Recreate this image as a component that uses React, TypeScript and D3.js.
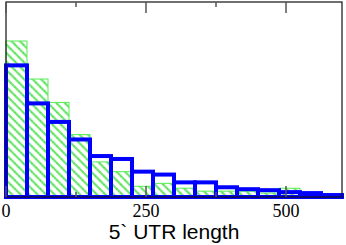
import React, { useEffect, useRef } from 'react';
import * as d3 from 'd3';

// histogram bins of 5` UTR length (bin width 37.5)
const binStarts = [0, 37.5, 75, 112.5, 150, 187.5, 225, 262.5, 300, 337.5, 375, 412.5, 450, 487.5, 525, 562.5];
const binWidth = 37.5;
// relative frequency (%) per bin
const greenValues = [16.0, 12.1, 9.7, 6.4, 3.6, 2.6, 1.1, 1.4, 0.9, 0.6, 0.6, 0.6, 0.4, 0.9, 0.4, 0.1];
const blueValues = [13.5, 9.6, 7.7, 5.9, 4.2, 3.9, 2.6, 2.3, 1.5, 1.5, 1.0, 0.8, 0.7, 0.5, 0.4, 0.2];
const majorTicks = [0, 250, 500];
const minorTicks = [125, 375];
const xTitle = '5` UTR length';

export default function App() {
  const svgRef = useRef<SVGSVGElement>(null);

  useEffect(() => {
    const width = 346;
    const height = 245;
    const m = { left: 6, right: 4, top: 2, bottom: 48 };

    const svg = d3.select(svgRef.current)
      .attr('width', width)
      .attr('height', height)
      .style('position', 'absolute')
      .style('left', 0)
      .style('top', 0)
      .style('background', '#fff');
    svg.selectAll('*').remove();

    const x = d3.scaleLinear().domain([0, 600]).range([m.left, width - m.right]);
    const y = d3.scaleLinear().domain([0, 20]).range([height - m.bottom, m.top]);

    // hatch pattern for the green bars (lines running top-left to bottom-right)
    const defs = svg.append('defs');
    const pat = defs.append('pattern')
      .attr('id', 'hatch')
      .attr('patternUnits', 'userSpaceOnUse')
      .attr('width', 6)
      .attr('height', 6)
      .attr('patternTransform', 'rotate(45)');
    pat.append('rect').attr('width', 6).attr('height', 6).attr('fill', '#fff');
    pat.append('line')
      .attr('x1', 0).attr('y1', 3).attr('x2', 6).attr('y2', 3)
      .attr('stroke', '#9ef09e').attr('stroke-width', 2.4);
    pat.append('line')
      .attr('x1', 0).attr('y1', 3).attr('x2', 6).attr('y2', 3)
      .attr('stroke', '#11cc11').attr('stroke-width', 0.9)
      .attr('stroke-dasharray', '1.5 0.8');

    svg.append('g')
      .selectAll('rect')
      .data(greenValues)
      .join('rect')
        .attr('x', (d, i) => x(binStarts[i]))
        .attr('y', d => y(d))
        .attr('width', x(binWidth) - x(0))
        .attr('height', d => y(0) - y(d))
        .attr('fill', 'url(#hatch)')
        .attr('stroke', '#55ee55')
        .attr('stroke-width', 1);

    svg.append('g')
      .selectAll('rect')
      .data(blueValues)
      .join('rect')
        .attr('x', (d, i) => x(binStarts[i]))
        .attr('y', d => y(d))
        .attr('width', x(binWidth) - x(0))
        .attr('height', d => y(0) - y(d))
        .attr('fill', 'none')
        .attr('stroke', '#0000ff')
        .attr('stroke-width', 4);

    // frame
    svg.append('rect')
      .attr('x', x(0))
      .attr('y', y(20))
      .attr('width', x(600) - x(0))
      .attr('height', y(0) - y(20))
      .attr('fill', 'none')
      .attr('stroke', '#111')
      .attr('stroke-width', 1.2);

    // inward ticks, top and bottom
    const ticks = [
      ...majorTicks.map(t => ({ t, len: 11 })),
      ...minorTicks.map(t => ({ t, len: 5 })),
    ];
    const tg = svg.append('g').attr('stroke', '#555').attr('stroke-width', 1.5);
    tg.selectAll('.tb')
      .data(ticks)
      .join('line')
        .attr('x1', d => x(d.t)).attr('x2', d => x(d.t))
        .attr('y1', y(0)).attr('y2', d => y(0) - d.len);
    tg.selectAll('.tt')
      .data(ticks)
      .join('line')
        .attr('x1', d => x(d.t)).attr('x2', d => x(d.t))
        .attr('y1', y(20)).attr('y2', d => y(20) + d.len);

    svg.append('g')
      .selectAll('text')
      .data(majorTicks)
      .join('text')
        .attr('x', d => x(d))
        .attr('y', 217)
        .attr('text-anchor', 'middle')
        .style('font-family', "'Liberation Serif', 'DejaVu Serif', serif")
        .attr('font-size', 18)
        .attr('fill', '#000')
        .text(d => d);

    svg.append('text')
      .attr('x', (x(0) + x(600)) / 2)
      .attr('y', 239)
      .attr('text-anchor', 'middle')
      .style('font-family', "'Liberation Sans', Arial, sans-serif")
      .attr('font-size', 21)
      .attr('fill', '#000')
      .text(xTitle);
  }, []);

  return <svg ref={svgRef}></svg>;
}
